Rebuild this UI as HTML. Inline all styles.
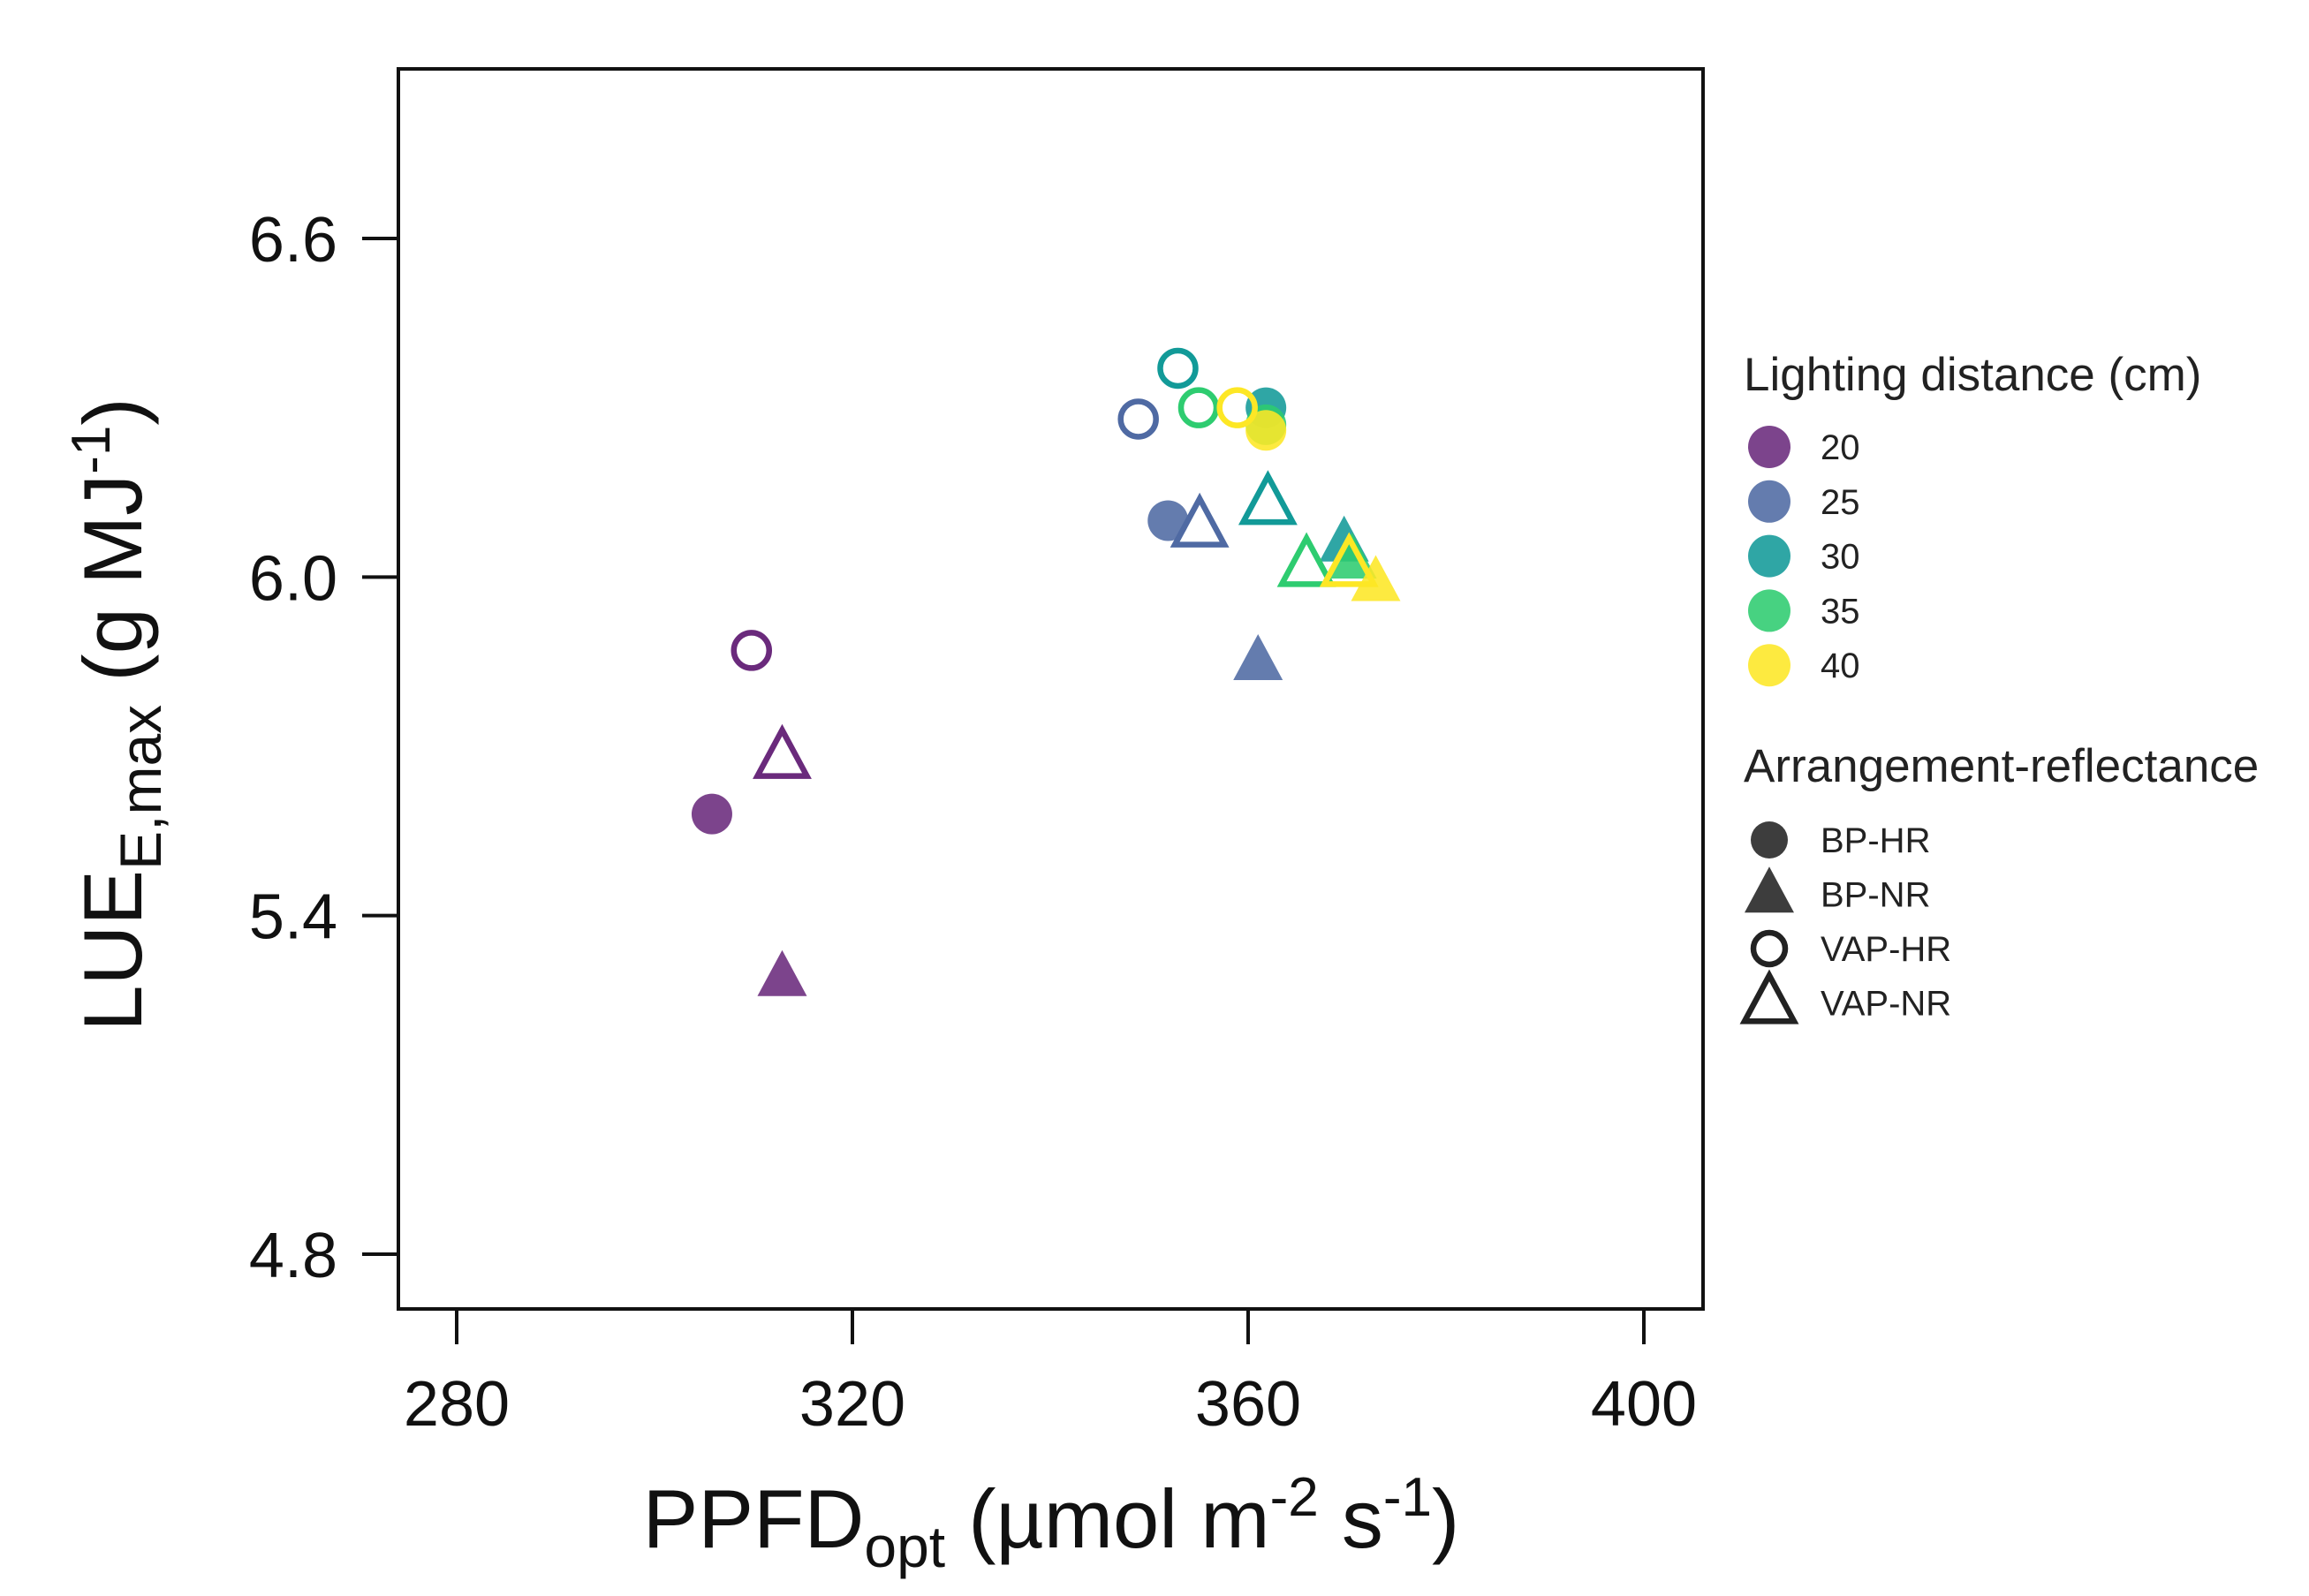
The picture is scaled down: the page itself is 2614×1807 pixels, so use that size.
<!DOCTYPE html>
<html><head><meta charset="utf-8"><style>
html,body{margin:0;padding:0;background:#fff;}
svg{display:block;font-family:"Liberation Sans",Arial,sans-serif;}
</style></head><body>
<svg id="chart" width="2614" height="1807" viewBox="0 0 2614 1807" xmlns="http://www.w3.org/2000/svg">
<rect x="0" y="0" width="2614" height="1807" fill="#fff"/>
<g id="marks"></g>
<rect x="451" y="78" width="1477" height="1404" fill="none" stroke="#111" stroke-width="4"/>
<g id="axes"></g>
<text x="1190" y="1752" font-size="94" text-anchor="middle" fill="#111">PPFD<tspan font-size="66" dy="22">opt</tspan><tspan dy="-22"> (µmol m</tspan><tspan font-size="62" dy="-36">-2</tspan><tspan dy="36"> s</tspan><tspan font-size="62" dy="-36">-1</tspan><tspan dy="36">)</tspan></text>
<text transform="translate(160,809) rotate(-90)" font-size="94" text-anchor="middle" fill="#111">LUE<tspan font-size="66" dy="22">E,max</tspan><tspan dy="-22"> (g MJ</tspan><tspan font-size="62" dy="-36">-1</tspan><tspan dy="36">)</tspan></text>
<g id="legend"></g>
</svg>
<script>
const distances = [20, 25, 30, 35, 40];
const colors = ["#6a2a7c", "#4f6aa3", "#129a98", "#2ecc70", "#fde725"];
const arrangements = ["BP-HR", "BP-NR", "VAP-HR", "VAP-NR"];
const xTicks = [280, 320, 360, 400];
const yTicks = [4.8, 5.4, 6.0, 6.6];
const yTickLabels = ["4.8", "5.4", "6.0", "6.6"];
const pointDist = [0,0,0,0, 1,1,1,1, 2,2,2,2, 3,3,3,3, 4,4,4,4];
const pointArr  = [0,2,3,1, 0,2,3,1, 2,0,3,1, 2,3,1,0, 2,0,1,3];
const pointX = [305.8,309.8,312.9,312.9, 351.9,348.9,355.1,361.0, 352.9,361.8,362.0,369.7, 355.0,365.9,370.5,361.8, 358.9,361.8,372.9,370.2];
const pointY = [5.58,5.87,5.68,5.29, 6.10,6.28,6.09,5.85, 6.37,6.30,6.13,6.06, 6.30,6.02,6.03,6.27, 6.30,6.26,5.99,6.02];

const NS = "http://www.w3.org/2000/svg";
const X0=517, X1=1861, xv0=280, xv1=400;
const Y0=1420, Y1=270, yv0=4.8, yv1=6.6;
function xs(v){return X0+(v-xv0)*(X1-X0)/(xv1-xv0);}
function ys(v){return Y0+(v-yv0)*(Y1-Y0)/(yv1-yv0);}
function mk(tag, attrs, parent){const e=document.createElementNS(NS,tag);for(const k in attrs)e.setAttribute(k,attrs[k]);parent.appendChild(e);return e;}
function shape(parent, arr, cx, cy, color, r, w, h){
  let e;
  const filled = arr===0||arr===1;
  if(arr===0||arr===2){
    e=mk("circle",{cx:cx,cy:cy,r:filled?r:r-3},parent);
  } else {
    e=mk("polygon",{points:`${cx},${cy-h*0.6} ${cx-w/2},${cy+h*0.4} ${cx+w/2},${cy+h*0.4}`},parent);
  }
  if(filled){e.setAttribute("fill",color);e.setAttribute("fill-opacity","0.88");}
  else{e.setAttribute("fill","none");e.setAttribute("stroke",color);e.setAttribute("stroke-width","6.5");}
  return e;
}
const marks=document.getElementById("marks");
for(let i=0;i<pointX.length;i++){
  const e=shape(marks,pointArr[i],xs(pointX[i]),ys(pointY[i]),colors[pointDist[i]],23,56,52);
  
  
}
const axes=document.getElementById("axes");
xTicks.forEach((t)=>{
  const l=mk("line",{x1:xs(t),x2:xs(t),y1:1482,y2:1522,stroke:"#111","stroke-width":4},axes);
  
  
  const tx=mk("text",{x:xs(t),y:1614,"font-size":72,"text-anchor":"middle",fill:"#111"},axes);
  tx.textContent=t;
  
  
});
yTicks.forEach((t,i)=>{
  const l=mk("line",{x1:410,x2:451,y1:ys(t),y2:ys(t),stroke:"#111","stroke-width":4},axes);
  
  
  const tx=mk("text",{x:382,y:ys(t)+26,"font-size":72,"text-anchor":"end",fill:"#111"},axes);
  tx.textContent=yTickLabels[i];
  
  
});
const lg=document.getElementById("legend");
let t1=mk("text",{x:1974,y:442,"font-size":53,fill:"#222"},lg);
t1.textContent="Lighting distance (cm)";


distances.forEach((d,i)=>{
  const y=506+i*61.8;
  const c=mk("circle",{cx:2003,cy:y,r:24,fill:colors[i],"fill-opacity":0.88},lg);
  
  
  const tx=mk("text",{x:2061,y:y+14,"font-size":40,fill:"#222"},lg);
  tx.textContent=d;
  
  
});
let t2=mk("text",{x:1974,y:885,"font-size":53,fill:"#222"},lg);
t2.textContent="Arrangement-reflectance";


arrangements.forEach((a,i)=>{
  const y=951+i*61.5;
  const s=shape(lg,i,2003,y,"#222",21,56,52);
  
  
  const tx=mk("text",{x:2061,y:y+14,"font-size":40,fill:"#222"},lg);
  tx.textContent=a;
  
  
});
</script>
</body></html>
